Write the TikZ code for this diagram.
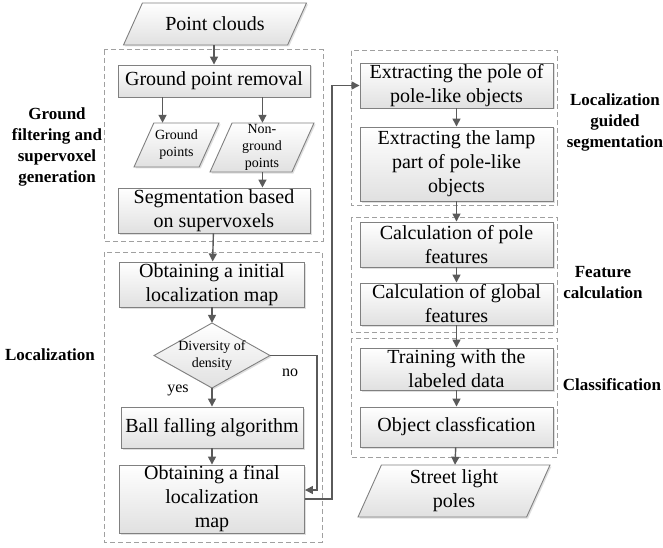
\documentclass[tikz,border=0pt]{standalone}
\usepackage{fontspec}
\setmainfont{LiberationSerif}[Extension=.ttf,UprightFont=*-Regular,BoldFont=*-Bold,ItalicFont=*-Italic,BoldItalicFont=*-BoldItalic]
\usetikzlibrary{arrows.meta,shadows}
\definecolor{linegray}{HTML}{5A5A5A}
\definecolor{edgegray}{HTML}{808080}
\definecolor{dashgray}{HTML}{A0A0A0}
\tikzset{
  boxfill/.style={draw=edgegray,line width=0.9pt,top color=white,bottom color=black!12,
    drop shadow={shadow xshift=1.5pt,shadow yshift=-1.5pt,opacity=0.25}},
  proc/.style={boxfill,inner sep=0pt,align=center,font=\fontsize{20}{24}\selectfont},
  iotext/.style={inner sep=0pt,align=center,font=\fontsize{20}{24}\selectfont},
  smalltext/.style={font=\fontsize{14}{17}\selectfont},
  dec/.style={boxfill,inner sep=0pt},
  grp/.style={draw=dashgray,dash pattern=on 5pt off 3pt,line width=1pt},
  lab/.style={font=\fontsize{17}{21}\selectfont\bfseries,align=center},
  arr/.style={draw=linegray,line width=1.4pt,-{Triangle[length=8pt,width=8pt]}},
}
\def\darr{\draw[arr]}
% name, cx, cy, width, height, extra style, text
\newcommand\iobox[7]{%
  \draw[boxfill] ({#2-#4/2+#5*0.45},{#3-#5/2}) -- ({#2+#4/2},{#3-#5/2})
    -- ({#2+#4/2-#5*0.45},{#3+#5/2}) -- ({#2-#4/2},{#3+#5/2}) -- cycle;
  \node[iotext,#6,minimum width=#4,minimum height=#5] (#1) at (#2,#3) {#7};}
\begin{document}
\begin{tikzpicture}[x=1pt,y=-1pt]
\useasboundingbox (0,0) rectangle (663,548);
\draw[grp] (104,50) rectangle (323,241);
\draw[grp] (104,252) rectangle (322,542);
\draw[grp] (351,51) rectangle (557,205);
\draw[grp] (351,217) rectangle (557,332);
\draw[grp] (351,338) rectangle (557,457);

\iobox{pc}{215}{24}{183}{42}{}{Point clouds}
\node[proc,minimum width=192,minimum height=32] (gpr) at (214,81) {Ground point removal};
\iobox{gp}{176.5}{145}{85}{44}{smalltext}{Ground\\points}
\iobox{ng}{262}{147.5}{104}{49}{smalltext}{Non-\\ground\\points}
\node[proc,minimum width=192,minimum height=45] (seg) at (214,210.5) {Segmentation based\\on supervoxels};
\node[proc,minimum width=185,minimum height=45] (init) at (212,284.5) {Obtaining a initial\\localization map};
\draw[dec] (154,355.5) -- (212,323) -- (270,355.5) -- (212,388) -- cycle;
\node[smalltext,align=center,inner sep=0pt,minimum width=116,minimum height=65] (dia) at (212,355.5) {Diversity of\\density};
\node[proc,minimum width=182,minimum height=41] (ball) at (212,427.5) {Ball falling algorithm};
\node[proc,minimum width=185,minimum height=68] (final) at (212,499) {Obtaining a final\\localization\\map};

\node[proc,minimum width=193,minimum height=45] (pole) at (456.5,85.5) {Extracting the pole of\\pole-like objects};
\node[proc,minimum width=193,minimum height=74] (lamp) at (456.5,164) {Extracting the lamp\\part of pole-like\\objects};
\node[proc,minimum width=193,minimum height=45] (polef) at (456.5,244.5) {Calculation of pole\\features};
\node[proc,minimum width=193,minimum height=42] (globf) at (456.5,304) {Calculation of global\\features};
\node[proc,minimum width=193,minimum height=42] (train) at (456.5,369) {Training with the\\labeled data};
\node[proc,minimum width=193,minimum height=40] (objc) at (456.5,427) {Object classfication};
\iobox{slp}{454}{491}{192}{52}{}{Street light\\poles}

\node[lab] (labgf) at (57,147) {Ground\\filtering and\\supervoxel\\generation};
\node[lab] (labloc) at (50,355) {Localization};
\node[lab] (labseg) at (615,122) {Localization\\guided\\segmentation};
\node[lab] (labfc) at (603,283) {Feature\\calculation};
\node[lab] (labcl) at (612,385) {Classification};
\node[font=\fontsize{16}{19}\selectfont] (yes) at (178,390) {yes};
\node[font=\fontsize{16}{19}\selectfont] (no) at (290,373) {no};

\coordinate (nobend) at (317,356);
\coordinate (backbend) at (332,88);

\darr (pc.south -| gpr) -- (gpr);
\darr ([xshift=45pt]gpr.south west) -- ([xshift=45pt]gpr.south west |- gp.north);
\darr ([xshift=-48pt]gpr.south east) -- ([xshift=-48pt]gpr.south east |- ng.north);
\darr ([xshift=-48pt]seg.north east |- ng.south) -- ([xshift=-48pt]seg.north east);
\darr (seg) -- (init);
\darr (init) -- (dia);
\darr (dia) -- (ball);
\darr (ball) -- (final);
\darr (dia.east) -- (dia.east -| nobend) |- ([yshift=9pt]final.east);
\darr (final.east) -- (final.east -| backbend) |- (pole.west);
\darr (pole) -- (lamp);
\darr (lamp) -- (polef);
\darr (polef) -- (globf);
\darr (globf) -- (train);
\darr (train) -- (objc);
\darr (objc) -- (slp);
\end{tikzpicture}
\end{document}
